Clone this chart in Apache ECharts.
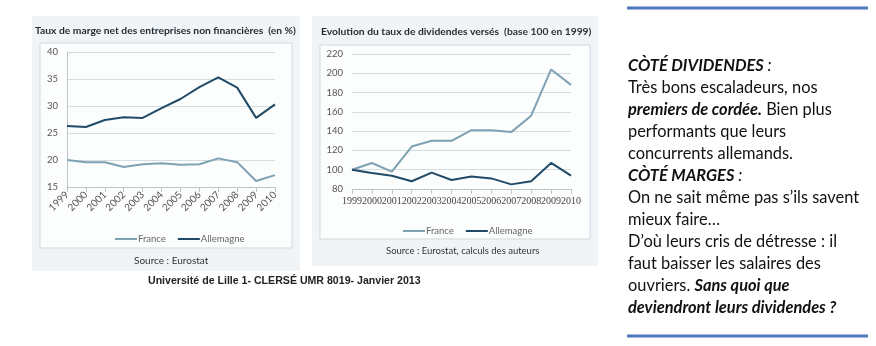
<!DOCTYPE html>
<html><head><meta charset="utf-8">
<script src="https://cdn.jsdelivr.net/npm/echarts@6/dist/echarts.min.js"></script>
<style>html,body{margin:0;padding:0;background:#fff}#c{width:876px;height:346px}</style>
</head><body><div id="c"></div>
<script>
const years = ['1999','2000','2001','2002','2003','2004','2005','2006','2007','2008','2009','2010'];
const margeFrance = [20.0,19.6,19.6,18.7,19.2,19.4,19.1,19.2,20.3,19.6,16.1,17.2];
const margeAllemagne = [26.3,26.1,27.4,27.9,27.8,29.6,31.3,33.5,35.3,33.4,27.8,30.3];
const divFrance = [100,107,98,124,130,130,141,141,139,156,204,188];
const divAllemagne = [100,96.5,93.8,88,97,89.3,93,91,84.8,88,107,93.8];
const seriesNames = ['France','Allemagne'];
const textLines = [
  [['b','CÒTÉ DIVIDENDES'],['i',' :']],
  [['n','Très bons escaladeurs, nos']],
  [['b','premiers de cordée.'],['n',' Bien plus']],
  [['n','performants que leurs']],
  [['n','concurrents allemands.']],
  [['b','CÒTÉ MARGES'],['i',' :']],
  [['n','On ne sait même pas s’ils savent']],
  [['n','mieux faire…']],
  [['n','D’où leurs cris de détresse : il']],
  [['n','faut baisser les salaires des']],
  [['n','ouvriers. '],['b','Sans quoi que']],
  [['b','deviendront leurs dividendes ?']]
];

const cFr = '#7fa2b3', cAl = '#1f4a68';
const chart = echarts.init(document.getElementById('c'));
const F = 'Lato, "Open Sans", sans-serif';
const FS = 16.4;
const txtGraphics = textLines.map((parts, i) => ({
  type: 'text', left: 628, top: 58 + i * 21.95, z: 10,
  style: {
    text: parts.map(p => '{' + p[0] + '|' + p[1] + '}').join(''),
    rich: {
      n: {fontFamily: F, fontSize: FS, fill: '#111'},
      b: {fontFamily: F, fontSize: FS, fontWeight: 'bold', fontStyle: 'italic', fill: '#111'},
      i: {fontFamily: F, fontSize: FS, fontStyle: 'italic', fill: '#111'}
    }
  }
}));
const titleRich = {b: {fontFamily: F, fontSize: 10.3, fontWeight: 'bold', color: '#1e2a33'}, n: {fontFamily: F, fontSize: 10.3, color: '#333'}};
chart.setOption({
  animation: false,
  backgroundColor: '#fff',
  title: [
    {left: 30, top: 17, text: '{b|Taux de marge net des entreprises non financières} {n|(en %)}', textStyle: {rich: titleRich}},
    {left: 316, top: 18, text: '{b|Evolution du taux de dividendes versés} {n|(base 100 en 1999)}', textStyle: {rich: titleRich}}
  ],
  graphic: [
    {type: 'rect', shape: {x: 32, y: 16, width: 268, height: 255}, style: {fill: '#f1f4f6'}, z: -10},
    {type: 'rect', shape: {x: 40, y: 43, width: 252, height: 205}, style: {fill: '#fcfdfd', stroke: '#cfd9de', lineWidth: 1}, z: -9},
    {type: 'rect', shape: {x: 312, y: 16, width: 286, height: 250}, style: {fill: '#f1f4f6'}, z: -10},
    {type: 'rect', shape: {x: 320, y: 45, width: 270, height: 194}, style: {fill: '#fcfdfd', stroke: '#cfd9de', lineWidth: 1}, z: -9},
    {type: 'text', style: {text: 'Source : Eurostat', fontFamily: F, fontSize: 10, fill: '#333'}, left: 134, top: 256},
    {type: 'text', style: {text: 'Source : Eurostat, calculs des auteurs', fontFamily: F, fontSize: 9.5, fill: '#333'}, left: 386, top: 246},
    {type: 'text', style: {text: 'Université de Lille 1- CLERSÉ UMR 8019- Janvier 2013', fontFamily: 'Liberation Sans', fontSize: 10.6, fontWeight: 'bold', fill: '#222'}, left: 148, top: 276},
    {type: 'rect', shape: {x: 627, y: 6.5, width: 241, height: 3}, style: {fill: '#4f79b8'}},
    {type: 'rect', shape: {x: 627, y: 334.5, width: 241, height: 3}, style: {fill: '#4f79b8'}},
    ...txtGraphics
  ],
  legend: [
    {left: 110, top: 229, itemWidth: 22, itemHeight: 2, itemGap: 12, icon: 'rect', data: seriesNames.map(n => ({name: n})),
     textStyle: {fontFamily: F, fontSize: 9.5, color: '#666', padding: [0,0,0,-4]}, selectedMode: false},
    {left: 398, top: 221, itemWidth: 22, itemHeight: 2, itemGap: 12, icon: 'rect', data: seriesNames.map(n => ({name: n})),
     textStyle: {fontFamily: F, fontSize: 9.5, color: '#666', padding: [0,0,0,-4]}, selectedMode: false}
  ],
  grid: [
    {left: 67, right: 876 - 275, top: 52, height: 135},
    {left: 352, right: 876 - 571, top: 54, height: 135}
  ],
  xAxis: [
    {type: 'category', gridIndex: 0, data: years, boundaryGap: false,
     axisLine: {lineStyle: {color: '#bcc6cc'}}, axisTick: {show: true, lineStyle: {color: '#bcc6cc'}},
     axisLabel: {interval: 0, rotate: 45, fontFamily: F, fontSize: 10, color: '#555', margin: 6}},
    {type: 'category', gridIndex: 1, data: years, boundaryGap: false,
     axisLine: {lineStyle: {color: '#bcc6cc'}}, axisTick: {show: true, lineStyle: {color: '#bcc6cc'}},
     axisLabel: {interval: 0, fontFamily: 'Liberation Serif', fontSize: 10, color: '#444', margin: 7}}
  ],
  yAxis: [
    {type: 'value', gridIndex: 0, min: 15, max: 40, interval: 5,
     axisLine: {show: true, lineStyle: {color: '#bcc6cc'}}, axisTick: {show: false},
     splitLine: {lineStyle: {color: '#d5dde1'}},
     axisLabel: {fontFamily: F, fontSize: 9.5, color: '#555', margin: 9}},
    {type: 'value', gridIndex: 1, min: 80, max: 220, interval: 20,
     axisLine: {show: false}, axisTick: {show: false},
     splitLine: {lineStyle: {color: '#d5dde1'}},
     axisLabel: {fontFamily: F, fontSize: 9.5, color: '#555', margin: 9}}
  ],
  series: [
    {name: 'France', type: 'line', xAxisIndex: 0, yAxisIndex: 0, data: margeFrance, symbol: 'none', lineStyle: {color: cFr, width: 2}, itemStyle: {color: cFr}},
    {name: 'Allemagne', type: 'line', xAxisIndex: 0, yAxisIndex: 0, data: margeAllemagne, symbol: 'none', lineStyle: {color: cAl, width: 2}, itemStyle: {color: cAl}},
    {name: 'France', type: 'line', xAxisIndex: 1, yAxisIndex: 1, data: divFrance, symbol: 'none', lineStyle: {color: cFr, width: 2}, itemStyle: {color: cFr}},
    {name: 'Allemagne', type: 'line', xAxisIndex: 1, yAxisIndex: 1, data: divAllemagne, symbol: 'none', lineStyle: {color: cAl, width: 2}, itemStyle: {color: cAl}}
  ]
});
</script></body></html>
